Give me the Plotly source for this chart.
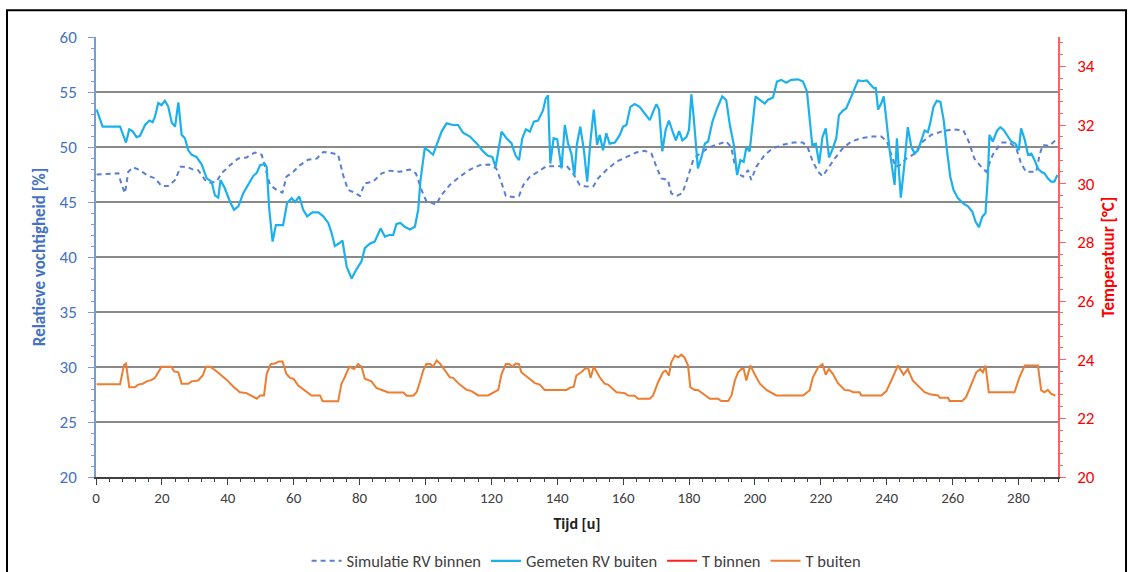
import plotly.graph_objects as go

# Simulated indoor relative humidity [%]
t_sim = [0.2, 6.8, 7.8, 8.8, 9.8, 11.3, 13.3, 15.4, 17.9, 19.9, 21.9, 24.0, 25.7, 27.5, 29.5, 31.0,
         33.1, 34.6, 36.6, 38.1, 40.7, 43.2, 45.7, 48.2, 50.3, 51.3, 52.8, 54.8, 56.6, 57.8, 59.9,
         61.9, 64.4, 67.0, 69.0, 71.0, 73.5, 75.0, 76.5, 78.6, 80.1, 81.6, 84.1, 86.7, 89.2, 92.2,
         95.3, 97.1, 98.8, 100.3, 101.8, 103.2, 104.9, 107.4, 110.4, 113.5, 116.5, 119.3, 121.5,
         122.8, 124.4, 126.4, 128.4, 129.7, 131.7, 134.2, 136.7, 139.8, 142.8, 144.8, 146.8, 148.9,
         150.9, 152.4, 154.9, 157.9, 161.0, 164.0, 166.6, 168.6, 170.1, 171.6, 173.6, 174.6, 176.2,
         178.0, 179.7, 181.4, 183.3, 186.3, 188.8, 191.3, 192.8, 193.8, 194.9, 196.4, 197.9, 198.9,
         200.4, 203.0, 205.5, 208.5, 211.6, 214.6, 216.1, 217.6, 219.2, 220.5, 222.2, 224.2, 226.7,
         229.3, 232.3, 235.3, 238.4, 240.1, 241.4, 242.7, 244.0, 246.0, 248.5, 251.0, 253.5, 256.6,
         260.1, 263.3, 264.9, 266.6, 268.7, 270.2, 272.2, 274.8, 277.3, 279.3, 280.8, 282.3, 285.4,
         286.4, 287.4, 289.4, 291.9]
rv_sim = [47.5, 47.6, 46.55, 45.8, 47.75, 48.15, 47.9, 47.45, 47.15, 46.45, 46.45, 47.0, 48.2, 48.2,
          47.95, 47.9, 47.0, 46.75, 46.85, 47.6, 48.35, 48.95, 49.05, 49.5, 49.3, 48.2, 46.55, 46.1,
          45.85, 47.3, 47.75, 48.35, 48.85, 48.95, 49.55, 49.5, 49.3, 47.45, 46.1, 45.85, 45.55, 46.7,
          46.85, 47.6, 47.85, 47.75, 47.95, 47.6, 46.1, 45.05, 44.95, 44.75, 45.65, 46.55, 47.3, 47.95,
          48.35, 48.4, 48.05, 47.0, 45.55, 45.45, 45.55, 46.55, 47.3, 47.75, 48.25, 48.25, 48.3, 47.6,
          46.55, 46.4, 46.4, 47.15, 47.9, 48.65, 49.1, 49.5, 49.65, 49.4, 48.2, 47.15, 47.0, 45.8,
          45.55, 45.8, 47.3, 48.95, 49.4, 50.0, 50.25, 50.5, 50.0, 48.5, 47.6, 47.3, 47.9, 47.0, 48.2,
          49.3, 49.9, 50.2, 50.4, 50.4, 49.9, 48.65, 47.75, 47.35, 48.05, 48.95, 49.9, 50.5, 50.8,
          50.95, 50.95, 50.5, 49.3, 48.2, 48.35, 48.95, 49.4, 50.5, 51.1, 51.4, 51.6, 51.5, 50.5,
          48.95, 48.2, 47.75, 49.3, 50.4, 50.4, 49.9, 48.5, 47.75, 47.75, 49.3, 50.2, 50.1, 50.8]

# Measured outdoor relative humidity [%]
t_meas = [0.2, 2.0, 7.3, 9.1, 10.1, 11.1, 12.3, 13.3, 14.9, 16.2, 17.2, 17.9, 18.9, 19.9, 20.9, 21.9,
          23.0, 24.0, 25.0, 26.0, 27.0, 28.0, 29.0, 30.5, 32.1, 33.6, 35.1, 36.1, 37.1, 37.8, 39.1,
          40.7, 41.9, 43.2, 44.7, 46.2, 47.7, 48.8, 49.8, 51.3, 51.8, 52.6, 53.6, 54.6, 56.8, 58.0,
          59.4, 60.4, 61.7, 62.9, 64.1, 65.7, 67.5, 69.0, 70.5, 71.5, 72.5, 73.8, 74.8, 76.1, 77.6,
          79.1, 80.6, 81.6, 83.1, 84.6, 86.4, 87.7, 89.0, 90.2, 91.2, 92.4, 93.7, 95.3, 96.8, 97.8,
          98.5, 99.8, 100.8, 102.3, 103.4, 104.9, 106.4, 108.4, 109.9, 111.4, 113.5, 115.5, 117.5,
          119.0, 120.3, 121.3, 123.1, 124.6, 126.1, 127.4, 128.4, 129.4, 130.5, 131.7, 132.9, 134.2,
          135.7, 136.5, 137.2, 137.9, 138.9, 140.0, 141.3, 142.3, 143.3, 144.3, 145.2, 146.0, 147.0,
          148.1, 149.1, 150.1, 151.1, 152.1, 152.9, 153.9, 154.9, 155.9, 157.5, 159.0, 160.0, 161.0,
          162.2, 163.5, 165.0, 166.6, 168.1, 169.1, 170.1, 170.9, 171.9, 172.9, 173.9, 175.2, 176.0,
          177.0, 178.0, 179.2, 180.0, 180.7, 181.4, 182.7, 183.8, 184.8, 185.8, 187.1, 188.5, 190.1,
          191.3, 192.4, 193.6, 194.6, 195.6, 196.6, 197.4, 198.4, 199.2, 200.2, 201.6, 203.0, 204.0,
          205.5, 206.7, 208.0, 209.5, 211.0, 213.1, 214.6, 215.8, 216.6, 217.4, 218.5, 219.5, 220.5,
          221.5, 222.5, 223.7, 224.7, 225.5, 226.7, 227.7, 229.3, 230.3, 231.3, 232.8, 234.0, 235.0,
          236.1, 236.7, 237.4, 238.4, 239.1, 239.9, 240.9, 242.4, 243.1, 243.7, 244.3, 245.4, 246.4,
          247.5, 248.5, 249.5, 250.5, 251.5, 252.5, 253.2, 254.2, 255.2, 256.3, 257.3, 258.3, 259.3,
          260.3, 261.6, 263.1, 264.7, 266.0, 267.0, 268.0, 269.0, 270.0, 270.7, 271.2, 272.2, 273.5,
          274.5, 275.5, 276.8, 277.8, 279.1, 280.1, 280.8, 281.9, 282.9, 283.9, 284.9, 285.9, 286.9,
          287.9, 288.9, 289.9, 290.9, 291.8]
rv_meas = [53.4, 51.85, 51.85, 50.4, 51.6, 51.45, 50.9, 51.0, 52.0, 52.4, 52.25, 52.75, 54.0, 53.8,
           54.2, 53.7, 52.2, 51.85, 54.05, 51.1, 50.8, 49.7, 49.3, 49.1, 48.4, 47.15, 46.85, 45.6,
           45.4, 47.0, 46.25, 45.0, 44.3, 44.6, 45.8, 46.55, 47.35, 47.65, 48.35, 48.45, 48.2, 44.3,
           41.4, 42.9, 42.9, 44.9, 45.35, 45.0, 45.5, 44.3, 43.7, 44.05, 44.05, 43.7, 43.1, 42.2,
           41.0, 41.25, 41.5, 39.1, 38.05, 38.9, 39.6, 40.8, 41.2, 41.4, 42.6, 41.85, 42.0, 42.0,
           43.0, 43.1, 42.75, 42.5, 42.75, 44.3, 47.0, 49.9, 49.7, 49.3, 50.2, 51.4, 52.15, 52.0,
           52.0, 51.3, 50.95, 50.35, 49.6, 49.2, 49.1, 48.2, 51.4, 50.8, 50.35, 49.2, 48.8, 50.8,
           51.6, 51.4, 52.3, 52.4, 53.35, 54.4, 54.7, 48.5, 50.8, 50.7, 48.05, 52.0, 50.3, 49.4,
           47.4, 50.3, 51.85, 49.7, 46.85, 50.6, 53.4, 50.2, 51.1, 49.7, 51.25, 50.3, 50.4, 51.1,
           51.85, 52.0, 53.65, 53.9, 53.65, 53.05, 52.45, 53.2, 53.9, 53.4, 49.6, 51.55, 52.4,
           51.25, 50.6, 51.45, 50.6, 50.9, 51.55, 54.8, 52.75, 48.05, 49.1, 50.3, 50.5, 52.3, 53.5,
           54.6, 54.25, 52.0, 50.2, 47.45, 48.8, 48.65, 49.95, 49.6, 51.85, 54.6, 54.25, 53.95,
           54.3, 54.5, 55.95, 56.1, 55.85, 56.1, 56.15, 55.95, 55.05, 52.75, 50.2, 50.3, 48.5, 50.9,
           51.7, 49.05, 49.9, 50.8, 52.9, 53.3, 53.5, 54.6, 55.35, 56.05, 56.0, 56.05, 55.7, 55.35,
           55.35, 53.4, 54.0, 54.6, 52.45, 49.7, 46.55, 50.8, 47.9, 45.4, 48.5, 51.8, 50.0, 49.4,
           49.7, 50.6, 51.5, 51.35, 52.15, 53.65, 54.2, 54.1, 52.45, 49.7, 47.3, 46.1, 45.35, 44.9,
           44.6, 44.1, 43.2, 42.7, 43.65, 44.0, 47.3, 51.1, 50.5, 51.5, 51.8, 51.55, 50.95, 50.5,
           50.3, 49.7, 51.7, 50.65, 49.3, 49.4, 48.8, 48.05, 47.75, 47.6, 47.15, 46.85, 46.85, 47.45]

# Outdoor temperature [°C]
t_out = [0.2, 7.3, 8.5, 9.1, 10.1, 11.8, 12.8, 14.2, 15.4, 16.9, 17.9, 18.9, 19.9, 22.9, 23.7, 25.0,
         26.0, 28.0, 29.0, 31.0, 32.4, 33.4, 34.6, 36.1, 37.6, 39.7, 41.7, 43.7, 45.7, 47.2, 48.8,
         49.8, 51.0, 51.8, 53.0, 54.3, 55.6, 56.6, 57.8, 58.9, 59.9, 61.4, 63.9, 65.4, 68.0, 68.8,
         73.5, 74.5, 75.5, 76.9, 78.3, 79.6, 80.6, 81.6, 83.6, 85.1, 87.2, 88.7, 93.3, 94.3, 96.3,
         97.3, 98.3, 99.3, 100.3, 101.5, 102.3, 103.4, 104.4, 105.9, 107.4, 108.4, 110.4, 112.5,
         113.5, 114.5, 116.0, 119.0, 120.5, 122.1, 123.1, 124.4, 125.4, 126.4, 127.4, 128.4, 129.1,
         131.2, 133.2, 134.7, 136.2, 142.8, 143.8, 145.0, 145.8, 147.3, 148.3, 149.4, 150.1, 151.1,
         152.9, 154.4, 155.4, 158.0, 160.5, 161.5, 163.5, 164.5, 168.1, 169.1, 170.6, 172.1, 172.9,
         173.9, 174.6, 175.7, 176.7, 177.7, 178.7, 179.7, 180.4, 181.7, 182.7, 184.3, 186.3, 188.8,
         189.8, 191.9, 192.9, 193.9, 194.9, 195.9, 196.6, 197.4, 198.6, 199.9, 201.5, 203.5, 205.5,
         206.5, 214.6, 216.6, 217.6, 219.2, 220.5, 221.5, 222.5, 223.7, 225.2, 227.2, 228.8, 229.8,
         231.8, 232.3, 238.4, 239.9, 241.4, 243.4, 245.1, 246.4, 247.9, 250.0, 251.5, 253.5, 255.6,
         256.1, 258.6, 259.1, 262.9, 264.1, 265.7, 267.2, 268.4, 269.2, 270.0, 271.0, 278.8, 280.3,
         281.9, 285.9, 286.9, 287.9, 288.9, 289.9, 291.2]
temp_out = [23.16, 23.16, 23.82, 23.87, 23.06, 23.06, 23.15, 23.18, 23.26, 23.31, 23.38, 23.57, 23.76,
            23.76, 23.6, 23.57, 23.18, 23.18, 23.26, 23.29, 23.46, 23.76, 23.76, 23.65, 23.51, 23.31,
            23.08, 22.89, 22.86, 22.78, 22.67, 22.78, 22.78, 23.51, 23.85, 23.87, 23.94, 23.94, 23.51,
            23.38, 23.35, 23.12, 22.89, 22.78, 22.78, 22.58, 22.58, 23.18, 23.4, 23.76, 23.68, 23.85,
            23.76, 23.35, 23.26, 23.04, 22.95, 22.88, 22.88, 22.77, 22.77, 22.89, 23.23, 23.63, 23.85,
            23.85, 23.76, 23.97, 23.87, 23.65, 23.4, 23.38, 23.15, 22.97, 22.95, 22.89, 22.78, 22.78,
            22.88, 22.97, 23.51, 23.85, 23.85, 23.76, 23.87, 23.85, 23.57, 23.38, 23.2, 23.15, 22.97,
            22.97, 23.04, 23.08, 23.46, 23.57, 23.68, 23.72, 23.38, 23.76, 23.4, 23.18, 23.15, 22.89,
            22.86, 22.78, 22.77, 22.67, 22.67, 22.78, 23.23, 23.57, 23.63, 23.46, 23.91, 24.14, 24.08,
            24.17, 24.06, 23.8, 23.06, 22.97, 22.97, 22.84, 22.67, 22.67, 22.59, 22.59, 22.78, 23.29,
            23.57, 23.68, 23.68, 23.29, 23.8, 23.51, 23.18, 22.97, 22.86, 22.78, 22.78, 22.95, 23.4,
            23.74, 23.85, 23.49, 23.68, 23.51, 23.2, 22.97, 22.95, 22.89, 22.89, 22.78, 22.78, 22.93,
            23.29, 23.8, 23.49, 23.68, 23.29, 23.06, 22.89, 22.81, 22.78, 22.7, 22.7, 22.59, 22.59,
            22.72, 23.18, 23.57, 23.68, 23.57, 23.8, 22.89, 22.89, 23.4, 23.8, 23.8, 22.95, 22.89,
            22.97, 22.84, 22.77]

FONT = "Calibri, Carlito, Lato, sans-serif"
BLUE_AXIS = "#4472C4"
RED_AXIS = "#FF0000"

fig = go.Figure()

fig.add_trace(go.Scatter(
    x=t_sim, y=rv_sim, mode="lines", name="Simulatie RV binnen",
    line=dict(color="#5B7FD0", width=2, dash="5px,4px"), yaxis="y"))
fig.add_trace(go.Scatter(
    x=t_meas, y=rv_meas, mode="lines", name="Gemeten RV buiten",
    line=dict(color="#1CB0EC", width=2.2), yaxis="y"))
fig.add_trace(go.Scatter(
    x=[None], y=[None], mode="lines", name="T binnen",
    line=dict(color="#FF2020", width=2), yaxis="y2"))
fig.add_trace(go.Scatter(
    x=t_out, y=temp_out, mode="lines", name="T buiten",
    line=dict(color="#ED7D31", width=2), yaxis="y2"))

fig.update_layout(
    width=1134, height=572,
    margin=dict(l=96, r=76, t=37, b=95, autoexpand=False),
    paper_bgcolor="white", plot_bgcolor="white",
    font=dict(family=FONT, size=15, color="#404040"),
    showlegend=True,
    legend=dict(orientation="h", x=0.51, xanchor="center",
                yref="container", y=0.019, yanchor="middle",
                font=dict(size=16.5, color="#404040"), itemwidth=30, tracegroupgap=0),
    xaxis=dict(
        range=[0, 292], dtick=20, tick0=0, showgrid=False, zeroline=False, automargin=False,
        showline=True, linecolor="#404040", linewidth=1.5,
        ticks="outside", ticklen=6, tickcolor="#404040", tickwidth=1,
        minor=dict(dtick=4, ticks="outside", ticklen=3, tickcolor="#404040"),
        tickfont=dict(size=15, color="#404040"),
        title=dict(text="<b>Tijd [u]</b>", font=dict(size=16, color="#202020"), standoff=12),
    ),
    yaxis=dict(
        range=[20, 60], dtick=5, tick0=20, showgrid=True, gridcolor="#8A8A8A", gridwidth=2,
        zeroline=False, showline=True, linecolor="#7A9BDB", linewidth=1.5, automargin=False,
        ticks="outside", ticklen=6, tickcolor="#7A9BDB",
        minor=dict(dtick=1, ticks="outside", ticklen=3, tickcolor="#7A9BDB"),
        tickfont=dict(size=17, color=BLUE_AXIS), ticklabelstandoff=8,
        title=dict(text="<b>Relatieve vochtigheid [%]</b>", font=dict(size=17, color=BLUE_AXIS),
                   standoff=10),
    ),
    yaxis2=dict(
        range=[20, 35], dtick=2, tick0=20, overlaying="y", side="right", showgrid=False,
        zeroline=False, showline=True, linecolor="#FF6060", linewidth=1.5, automargin=False,
        ticks="outside", ticklen=6, tickcolor="#FF6060",
        minor=dict(dtick=0.4, ticks="outside", ticklen=3, tickcolor="#FF6060"),
        tickfont=dict(size=17, color=RED_AXIS), ticklabelstandoff=8,
        title=dict(text="<b>Temperatuur [°C]</b>", font=dict(size=17, color=RED_AXIS),
                   standoff=8),
    ),
    shapes=[dict(type="rect", xref="paper", yref="paper",
                 x0=-0.0925, x1=1.0707, y0=-0.23, y1=1.061,
                 line=dict(color="black", width=2), fillcolor="rgba(0,0,0,0)", layer="below")],
)

fig.write_html("out.html")
